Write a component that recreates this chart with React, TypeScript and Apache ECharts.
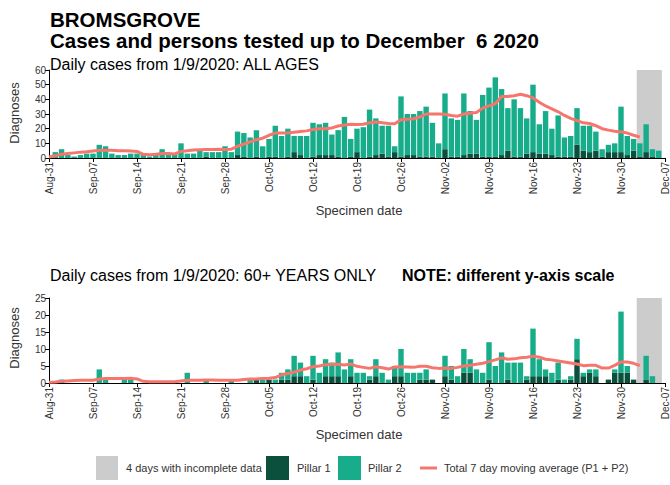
import React, { useEffect, useRef } from 'react';
import * as echarts from 'echarts';

const xTickLabels = ['Aug-31', 'Sep-07', 'Sep-14', 'Sep-21', 'Sep-28', 'Oct-05', 'Oct-12', 'Oct-19', 'Oct-26', 'Nov-02', 'Nov-09', 'Nov-16', 'Nov-23', 'Nov-30', 'Dec-07'];

// day index 0 = Aug-31, 97 = Dec-06
const allPillar1 = [
  0, 0, 0, 0, 0, 0, 0, 0, 0, 0,
  0, 0, 0, 0, 0, 0, 0, 0, 0, 0,
  0, 0, 0, 0, 0, 1, 0, 0, 0, 0,
  2, 1, 0, 1, 0, 1, 1, 0, 1, 4,
  2, 0, 1, 2, 2, 2, 1, 0, 1, 4,
  0, 1, 2, 3, 1, 4, 1, 2, 2, 1,
  1, 1, 0, 6, 1, 1, 2, 3, 3, 1,
  1, 1, 2, 5, 1, 1, 3, 4, 3, 3,
  2, 1, 1, 1, 9, 5, 4, 5, 1, 4,
  4, 4, 2, 5, 1, 4, 1, 0,
];
const allPillar2 = [
  0, 4, 6, 2, 1, 2, 3, 3, 9, 8,
  3, 2, 2, 3, 3, 2, 1, 2, 6, 2,
  3, 10, 3, 3, 5, 3, 4, 4, 8, 4,
  16, 16, 14, 18, 8, 12, 21, 15, 19, 11,
  13, 15, 23, 21, 22, 14, 18, 28, 12, 16,
  21, 32, 25, 19, 21, 4, 41, 28, 28, 31,
  34, 23, 10, 38, 26, 25, 42, 29, 23, 42,
  47, 54, 45, 29, 39, 33, 24, 46, 20, 29,
  18, 28, 13, 14, 25, 17, 18, 13, 5, 5,
  6, 31, 13, 8, 9, 19, 5, 5,
];
const allAvg = [
  0.7, 1.5, 2.5, 3, 3.5, 4, 4.3, 4.8, 5.2, 5.2,
  5.2, 5, 5, 4.8, 4.5, 2.5, 2.3, 2.5, 3, 3,
  2.8, 4.5, 5, 5.5, 5.7, 5.8, 5.8, 6, 5.8, 6,
  8, 9.5, 11, 12.5, 13.5, 15.5, 17, 17, 17, 17.5,
  18, 18.5, 19.5, 20, 20, 20.5, 21.8, 22.5, 23, 22.8,
  23, 24, 24.5, 24, 23.5, 23.4, 26, 26.4, 26.8, 28,
  30, 30, 30, 29.8, 29, 28.5, 30, 30.5, 31, 34,
  35.5, 37, 42, 42, 42.5, 43.5, 42.5, 41, 38, 35.5,
  33.5, 31.5, 29, 27, 25.5, 24, 23.5, 22, 20, 19,
  18.3, 17.8, 17, 15.5, 14.3,
];

const oldPillar1 = [
  0, 0, 0, 0, 0, 0, 0, 0, 0, 0,
  0, 0, 0, 0, 0, 0, 0, 0, 0, 0,
  0, 0, 0, 0, 0, 0, 0, 0, 0, 0,
  0, 0, 0, 1, 0, 1, 0, 1, 1, 2,
  2, 0, 1, 0, 2, 2, 2, 0, 2, 0,
  0, 1, 2, 0, 0, 2, 2, 0, 0, 1,
  1, 1, 0, 2, 1, 0, 3, 3, 0, 0,
  1, 0, 0, 1, 0, 0, 1, 2, 2, 2,
  0, 1, 0, 1, 7, 2, 3, 2, 0, 1,
  3, 3, 3, 1, 0, 1, 0, 0,
];
const oldPillar2 = [
  0, 0, 1, 0, 0, 0, 0, 0, 4, 1,
  0, 0, 1, 1, 0, 0, 0, 0, 0, 0,
  0, 0, 3, 0, 0, 1, 0, 0, 0, 1,
  0, 0, 1, 0, 1, 0, 1, 2, 3, 6,
  4, 2, 7, 3, 5, 4, 7, 4, 5, 3,
  3, 1, 5, 3, 1, 3, 8, 3, 3, 2,
  3, 0, 0, 6, 4, 2, 7, 4, 4, 3,
  11, 5, 9, 5, 6, 6, 1, 14, 5, 2,
  3, 5, 1, 1, 6, 1, 1, 2, 0, 0,
  1, 18, 2, 0, 0, 7, 2, 0,
];
const oldAvg = [
  0.2, 0.3, 0.5, 0.6, 0.7, 0.8, 0.8, 0.8, 1.2, 1.3,
  1.3, 1.3, 1.3, 1.4, 1.2, 0.5, 0.4, 0.4, 0.4, 0.4,
  0.4, 0.6, 0.8, 0.8, 0.8, 0.9, 0.9, 0.8, 0.8, 0.8,
  0.8, 1, 1.2, 1.2, 1.3, 1.4, 1.6, 2.4, 2.8, 3.2,
  3.8, 4.2, 4.8, 5, 5.4, 5.5, 5.5, 5.3, 5.6, 4.9,
  4.6, 4.3, 4.8, 4.5, 4.1, 4.7, 4.8, 4.7, 4.6, 4.9,
  4.9, 4.5, 4.3, 4.4, 4.3, 4.6, 5, 5.2, 5.5, 5.8,
  6.3, 6.8, 7.4, 7, 7.1, 7.4, 7.6, 7.9, 7.6, 7,
  6.8, 6.5, 6.2, 5.9, 5.6, 5.1, 5.2, 5.2, 4.4, 4.4,
  5.2, 6.2, 6.2, 5.8, 5.1,
];

// incomplete data: Dec-03 .. Dec-06 (day indices 94..97)
const incompleteFirstDay = 94;
const incompleteLastDay = 97;
const lastTickDay = 98; // Dec-07

const FONT = '"Liberation Sans", Arial, Helvetica, sans-serif';
const C_P1 = '#0b503c';
const C_P2 = '#17ad8b';
const C_AVG = '#f6766e';
const C_GREY = '#cccccc';

const dayCategories = Array.from({ length: lastTickDay + 1 }, (_, i) => String(i));

function pairs(arr: number[]) {
  return arr.map((v, i) => [i, v]);
}

function makeX(gridIndex: number) {
  return {
    type: 'value',
    gridIndex,
    min: 0,
    max: lastTickDay,
    interval: 7,
    axisLine: { show: true, lineStyle: { color: '#000', width: 1 } },
    axisTick: { show: true, length: 4, lineStyle: { color: '#000' } },
    splitLine: { show: false },
    axisLabel: {
      rotate: 90,
      fontSize: 10,
      color: '#333',
      margin: 4,
      fontFamily: FONT,
      formatter: (v: number) => xTickLabels[Math.round(v / 7)] || '',
    },
  };
}

function makeCatX(gridIndex: number) {
  return {
    type: 'category',
    gridIndex,
    data: dayCategories,
    boundaryGap: false,
    show: false,
  };
}

function makeY(gridIndex: number, max: number, interval: number) {
  return {
    type: 'value',
    gridIndex,
    min: 0,
    max,
    interval,
    axisLine: { show: true, lineStyle: { color: '#000', width: 1 } },
    axisTick: { show: true, length: 4, lineStyle: { color: '#000' } },
    splitLine: { show: false },
    axisLabel: { fontSize: 10, color: '#333', margin: 3, fontFamily: FONT },
  };
}

function makeSeries(idx: number, p1: number[], p2: number[], avg: number[]) {
  return [
    {
      type: 'bar',
      name: 'Pillar 1',
      xAxisIndex: idx + 2,
      yAxisIndex: idx,
      stack: 's' + idx,
      data: p1,
      itemStyle: { color: C_P1 },
      barCategoryGap: '14%',
    },
    {
      type: 'bar',
      name: 'Pillar 2',
      xAxisIndex: idx + 2,
      yAxisIndex: idx,
      stack: 's' + idx,
      data: p2,
      itemStyle: { color: C_P2 },
      barCategoryGap: '14%',
    },
    {
      type: 'line',
      name: 'avg',
      xAxisIndex: idx,
      yAxisIndex: idx,
      data: pairs(avg),
      symbol: 'none',
      showSymbol: false,
      lineStyle: { color: C_AVG, width: 3 },
      z: 5,
      markArea: {
        silent: true,
        z: 0,
        itemStyle: { color: C_GREY, opacity: 1 },
        data: [[{ xAxis: incompleteFirstDay - 0.5 }, { xAxis: incompleteLastDay + 0.5 }]],
      },
    },
  ];
}

function txt(text: string, x: number, y: number, size: number, extra: any = {}) {
  return {
    type: 'text',
    x,
    y,
    rotation: extra.rotation || 0,
    style: {
      text,
      fontSize: size,
      fontFamily: FONT,
      fontWeight: extra.bold ? 'bold' : 'normal',
      fill: extra.color || '#000',
      align: extra.align || 'left',
      verticalAlign: 'middle',
    },
  };
}

export default function App() {
  const ref = useRef<HTMLDivElement>(null);
  useEffect(() => {
    if (!ref.current) return;
    const chart = echarts.init(ref.current, undefined, { renderer: 'svg' });
    chart.setOption({
      animation: false,
      backgroundColor: '#fff',
      grid: [
        { left: 49, right: 1.5, top: 70, height: 88 },
        { left: 49, right: 1.5, top: 298, height: 85 },
      ],
      xAxis: [makeX(0), makeX(1), makeCatX(0), makeCatX(1)],
      yAxis: [makeY(0, 60, 10), makeY(1, 25, 5)],
      series: [
        ...makeSeries(0, allPillar1, allPillar2, allAvg),
        ...makeSeries(1, oldPillar1, oldPillar2, oldAvg),
      ],
      graphic: [
        txt('BROMSGROVE', 50, 19, 20.5, { bold: true }),
        txt('Cases and persons tested up to December  6 2020', 50, 40, 20.5, { bold: true }),
        txt('Daily cases from 1/9/2020: ALL AGES', 50, 64, 16),
        txt('Daily cases from 1/9/2020: 60+ YEARS ONLY', 50, 275, 16),
        txt('NOTE: different y-axis scale', 402, 275, 16, { bold: true }),
        txt('Diagnoses', 14, 113, 13, { rotation: Math.PI / 2, align: 'center', color: '#333' }),
        txt('Diagnoses', 14, 338, 13, { rotation: Math.PI / 2, align: 'center', color: '#333' }),
        txt('Specimen date', 359, 210, 13, { align: 'center', color: '#333' }),
        txt('Specimen date', 359, 434, 13, { align: 'center', color: '#333' }),
        { type: 'rect', shape: { x: 96, y: 456, width: 22, height: 24 }, style: { fill: C_GREY } },
        txt('4 days with incomplete data', 126, 468, 11, { color: '#333' }),
        { type: 'rect', shape: { x: 266, y: 456, width: 23, height: 24 }, style: { fill: C_P1 } },
        txt('Pillar 1', 297, 468, 11, { color: '#333' }),
        { type: 'rect', shape: { x: 338, y: 456, width: 23, height: 24 }, style: { fill: C_P2 } },
        txt('Pillar 2', 368, 468, 11, { color: '#333' }),
        { type: 'line', shape: { x1: 420, y1: 468, x2: 437, y2: 468 }, style: { stroke: C_AVG, lineWidth: 3 } },
        txt('Total 7 day moving average (P1 + P2)', 444, 468, 11, { color: '#333' }),
      ],
    });
    return () => chart.dispose();
  }, []);
  return (
    <div
      ref={ref}
      style={{ position: 'fixed', left: 0, top: 0, width: 670, height: 485, background: '#fff' }}
    />
  );
}
